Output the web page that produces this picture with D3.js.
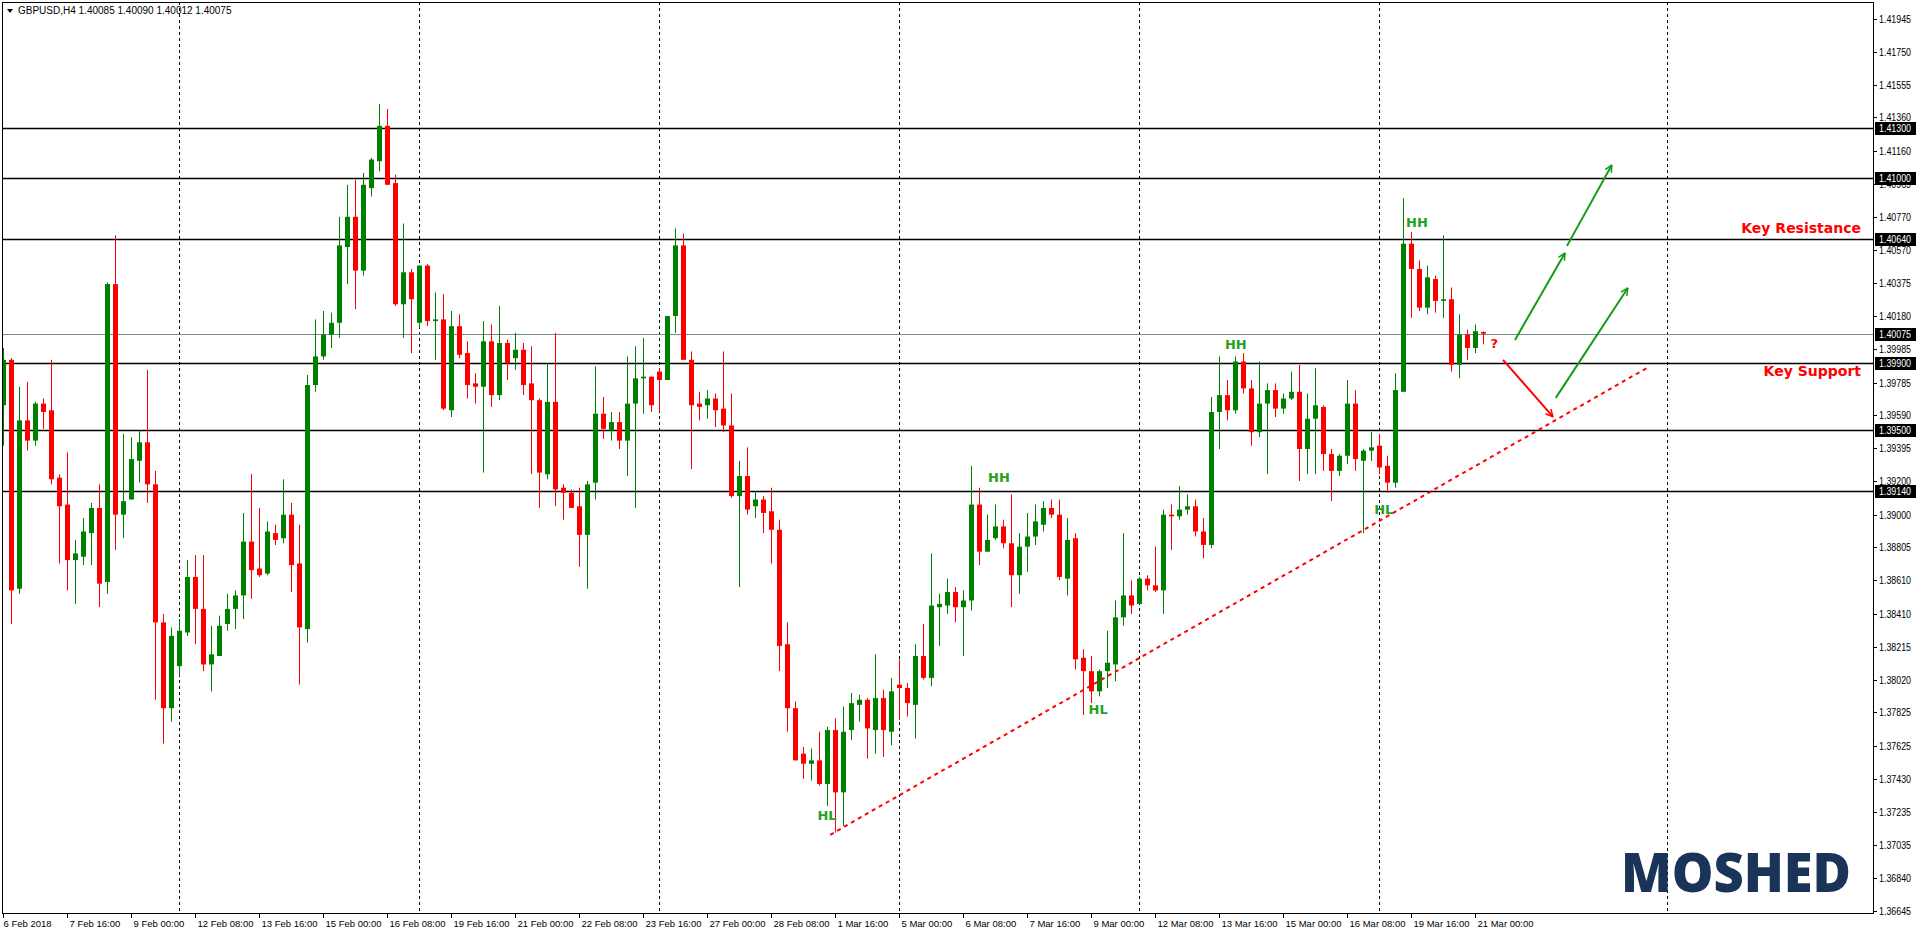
<!DOCTYPE html>
<html><head><meta charset="utf-8">
<script src="https://cdn.jsdelivr.net/npm/d3@7/dist/d3.min.js"></script>
<style>body{margin:0;background:#fff;overflow:hidden}svg{display:block}</style>
</head><body><svg id="c" width="1916" height="934"></svg>
<script>
const opens=[1.3965,1.3992,1.3856,1.3956,1.3944,1.3966,1.3962,1.3922,1.3906,1.3873,1.3875,1.3889,1.3904,1.3860,1.4037,1.3900,1.3909,1.3932,1.3943,1.3918,1.3836,1.3785,1.3810,1.3830,1.3863,1.3844,1.3811,1.3816,1.3835,1.3844,1.3852,1.3884,1.3868,1.3865,1.3889,1.3886,1.3900,1.3871,1.3832,1.3977,1.3994,1.4007,1.4014,1.4059,1.4077,1.4045,1.4094,1.4110,1.4131,1.4097,1.4025,1.4044,1.4014,1.4048,1.4015,1.4016,1.3962,1.4012,1.3996,1.3978,1.3976,1.4003,1.3971,1.4002,1.3993,1.3998,1.3978,1.3968,1.3924,1.3967,1.3916,1.3913,1.3905,1.3888,1.3919,1.3960,1.3950,1.3955,1.3944,1.3966,1.3981,1.3982,1.3985,1.3980,1.4018,1.4060,1.3992,1.3966,1.3965,1.3969,1.3963,1.3953,1.3911,1.3923,1.3905,1.3909,1.3902,1.3891,1.3823,1.3785,1.3758,1.3752,1.3754,1.3740,1.3772,1.3735,1.3772,1.3787,1.3790,1.3772,1.3791,1.3771,1.3799,1.3797,1.3787,1.3816,1.3803,1.3845,1.3846,1.3854,1.3845,1.3849,1.3906,1.3878,1.3886,1.3893,1.3883,1.3864,1.3881,1.3887,1.3894,1.3904,1.3900,1.3862,1.3886,1.3815,1.3807,1.3795,1.3807,1.3811,1.3839,1.3852,1.3847,1.3862,1.3858,1.3855,1.3900,1.3899,1.3903,1.3905,1.3890,1.3882,1.3961,1.3971,1.3962,1.3991,1.3975,1.3949,1.3966,1.3974,1.3963,1.3969,1.3973,1.3939,1.3957,1.3964,1.3936,1.3926,1.3935,1.3966,1.3932,1.3938,1.3941,1.3929,1.3919,1.3973,1.4061,1.4046,1.4023,1.4040,1.4027,1.4028,1.3989,1.4007,1.3999,1.40085];
const highs=[1.3999,1.3993,1.3976,1.3979,1.3967,1.3969,1.3992,1.3924,1.3937,1.3885,1.3898,1.3907,1.3918,1.4038,1.4066,1.3948,1.3946,1.3950,1.3986,1.3926,1.3841,1.3833,1.3838,1.3873,1.3876,1.3876,1.3834,1.3840,1.3853,1.3855,1.3901,1.3924,1.3904,1.3896,1.3894,1.3921,1.3907,1.3894,1.3983,1.4016,1.4021,1.4020,1.4077,1.4096,1.4099,1.4103,1.4112,1.4144,1.4141,1.4102,1.4073,1.4046,1.4048,1.4049,1.4032,1.4031,1.4021,1.4019,1.4003,1.3984,1.4015,1.4013,1.4024,1.4004,1.4008,1.4002,1.4000,1.3969,1.3990,1.4008,1.3918,1.3915,1.3916,1.3920,1.3988,1.3970,1.3961,1.3961,1.3994,1.4000,1.4005,1.3982,1.3987,1.4018,1.4070,1.4067,1.3997,1.3973,1.3974,1.3972,1.3997,1.3972,1.3932,1.3940,1.3914,1.3911,1.3916,1.3897,1.3836,1.3789,1.3762,1.3761,1.3771,1.3774,1.3779,1.3786,1.3794,1.3793,1.3791,1.3817,1.3796,1.3803,1.3814,1.3800,1.3823,1.3835,1.3877,1.3853,1.3862,1.3857,1.3855,1.3929,1.3916,1.3900,1.3906,1.3897,1.3912,1.3889,1.3901,1.3906,1.3908,1.3909,1.3909,1.3898,1.3889,1.3820,1.3816,1.3808,1.3831,1.3849,1.3889,1.3861,1.3863,1.3864,1.3881,1.3903,1.3906,1.3917,1.3912,1.3909,1.3898,1.3970,1.3994,1.3980,1.3994,1.3996,1.3980,1.3991,1.3978,1.3978,1.3972,1.3985,1.3989,1.3972,1.3987,1.3965,1.3939,1.3936,1.3980,1.3974,1.3939,1.3949,1.3948,1.3935,1.3984,1.4088,1.4068,1.4051,1.4048,1.4042,1.4066,1.4035,1.4019,1.4010,1.4013,1.40090];
const lows=[1.3941,1.3835,1.3853,1.3938,1.3941,1.3951,1.3918,1.3871,1.3855,1.3847,1.3870,1.3870,1.3845,1.3853,1.3879,1.3886,1.3909,1.3919,1.3907,1.3790,1.3764,1.3777,1.3804,1.3828,1.3823,1.3807,1.3795,1.3816,1.3831,1.3832,1.3838,1.3850,1.3863,1.3864,1.3882,1.3883,1.3854,1.3799,1.3824,1.3973,1.3992,1.3999,1.4005,1.4037,1.4022,1.4042,1.4089,1.4104,1.4096,1.4024,1.4005,1.3996,1.4011,1.4012,1.3992,1.3962,1.3958,1.3993,1.3969,1.3966,1.3925,1.3964,1.3968,1.3980,1.3986,1.3971,1.3924,1.3904,1.3921,1.3905,1.3897,1.3904,1.3869,1.3856,1.3909,1.3945,1.3944,1.3939,1.3923,1.3904,1.3960,1.3961,1.3961,1.3980,1.4008,1.3992,1.3927,1.3956,1.3957,1.3952,1.3949,1.3910,1.3857,1.3900,1.3898,1.3889,1.3871,1.3807,1.3771,1.3754,1.3743,1.3742,1.3739,1.3727,1.3711,1.3715,1.3766,1.3777,1.3755,1.3758,1.3756,1.3763,1.3778,1.3780,1.3767,1.3802,1.3798,1.3822,1.3841,1.3836,1.3816,1.3843,1.3870,1.3878,1.3885,1.3880,1.3845,1.3853,1.3866,1.3882,1.3890,1.3898,1.3861,1.3852,1.3808,1.3781,1.3788,1.3792,1.3797,1.3801,1.3834,1.3841,1.3847,1.3855,1.3854,1.3841,1.3879,1.3897,1.3900,1.3887,1.3874,1.3880,1.3939,1.3956,1.3960,1.3972,1.3941,1.3946,1.3924,1.3958,1.3960,1.3968,1.3920,1.3924,1.3924,1.3926,1.3908,1.3923,1.3930,1.3926,1.3889,1.3932,1.3924,1.3913,1.3916,1.3973,1.4017,1.4021,1.4019,1.4020,1.4017,1.3985,1.3981,1.3992,1.3996,1.40012];
const closes=[1.3992,1.3855,1.3956,1.3944,1.3966,1.3961,1.3921,1.3905,1.3873,1.3877,1.3890,1.3904,1.3859,1.4037,1.3900,1.3908,1.3933,1.3943,1.3918,1.3836,1.3785,1.3828,1.3831,1.3863,1.3844,1.3811,1.3817,1.3834,1.3844,1.3852,1.3884,1.3867,1.3864,1.3890,1.3885,1.3900,1.3870,1.3833,1.3977,1.3994,1.4007,1.4014,1.4060,1.4077,1.4045,1.4096,1.4111,1.4131,1.4096,1.4025,1.4044,1.4028,1.4048,1.4015,1.4016,1.3963,1.4012,1.3995,1.3977,1.3976,1.4003,1.3971,1.4002,1.3990,1.3998,1.3977,1.3968,1.3925,1.3967,1.3915,1.3913,1.3904,1.3888,1.3918,1.3960,1.3951,1.3955,1.3944,1.3966,1.3981,1.3982,1.3965,1.3980,1.4018,1.4060,1.3992,1.3965,1.3964,1.3969,1.3962,1.3953,1.3911,1.3923,1.3903,1.3909,1.3901,1.3891,1.3822,1.3785,1.3754,1.3752,1.3754,1.3740,1.3772,1.3735,1.3771,1.3788,1.3790,1.3773,1.3791,1.3772,1.3795,1.3797,1.3788,1.3816,1.3803,1.3846,1.3847,1.3854,1.3845,1.3849,1.3906,1.3878,1.3885,1.3893,1.3883,1.3864,1.3881,1.3887,1.3896,1.3904,1.3900,1.3863,1.3885,1.3814,1.3807,1.3795,1.3807,1.3812,1.3839,1.3852,1.3846,1.3862,1.3858,1.3855,1.3900,1.3899,1.3903,1.3905,1.3890,1.3882,1.3961,1.3971,1.3962,1.3991,1.3975,1.3949,1.3966,1.3974,1.3963,1.3969,1.3973,1.3939,1.3957,1.3965,1.3936,1.3926,1.3935,1.3966,1.3933,1.3938,1.3940,1.3928,1.3919,1.3974,1.4061,1.4046,1.4023,1.4041,1.4027,1.4028,1.3989,1.4007,1.3999,1.4009,1.40075];
const priceTicks=[1.41945,1.41750,1.41555,1.41360,1.41160,1.40965,1.40770,1.40570,1.40375,1.40180,1.39985,1.39785,1.39590,1.39395,1.39200,1.39000,1.38805,1.38610,1.38410,1.38215,1.38020,1.37825,1.37625,1.37430,1.37235,1.37035,1.36840,1.36645];
const timeLabels=["6 Feb 2018","7 Feb 16:00","9 Feb 00:00","12 Feb 08:00","13 Feb 16:00","15 Feb 00:00","16 Feb 08:00","19 Feb 16:00","21 Feb 00:00","22 Feb 08:00","23 Feb 16:00","27 Feb 00:00","28 Feb 08:00","1 Mar 16:00","5 Mar 00:00","6 Mar 08:00","7 Mar 16:00","9 Mar 00:00","12 Mar 08:00","13 Mar 16:00","15 Mar 00:00","16 Mar 08:00","19 Mar 16:00","21 Mar 00:00"];
const levels=[1.41300,1.41000,1.40640,1.39900,1.39500,1.39140];
const currentPrice=1.40075;
const weekSeparators=[22,52,82,112,142,172,208];
const trendLine=[[103.4,1.37098],[205.5,1.39872]];
const greenArrows=[[[189.0,1.40038],[195.25,1.40555]],[[195.5,1.40597],[201.1,1.41078]],[[194.1,1.39694],[203.1,1.40347]]];
const redArrows=[[[187.5,1.39920],[193.75,1.39581]]];
const swingLabels=[["HH",124.5,1.39213],["HH",154.1,1.40003],["HH",176.75,1.40727],["HL",103.0,1.37205],["HL",136.9,1.37834],["HL",172.6,1.39022]];
const keyLabels=[["Key Resistance",1.40698],["Key Support",1.39848]];

const svg=d3.select("#c");
const L=2,T=2,R=1873,B=913;
const x=d3.scaleLinear().domain([0,185]).range([3,1483]);
const y=d3.scaleLinear().domain([1.36645,1.41945]).range([911,19]);
const GREEN="#008000",RED="#ff0000";
const font="'Liberation Sans', Arial, sans-serif";

svg.append("defs").append("clipPath").attr("id","pc").append("rect").attr("x",L).attr("y",T).attr("width",R-L).attr("height",B-T);
const g=svg.append("g").attr("clip-path","url(#pc)");

g.selectAll(".sep").data(weekSeparators).join("line").attr("x1",d=>Math.round(x(d))+0.5).attr("x2",d=>Math.round(x(d))+0.5).attr("y1",T).attr("y2",B)
 .attr("stroke","#000").attr("stroke-dasharray","3,3").attr("stroke-width",1);
g.selectAll(".lv").data(levels).join("line").attr("x1",L).attr("x2",R).attr("y1",d=>Math.round(y(d))+0.5).attr("y2",d=>Math.round(y(d))+0.5).attr("stroke","#000").attr("stroke-width",1.3);
g.append("line").attr("x1",L).attr("x2",R).attr("y1",Math.round(y(currentPrice))+0.5).attr("y2",Math.round(y(currentPrice))+0.5).attr("stroke","#778899");

const idx=d3.range(opens.length);
const col=i=>closes[i]<opens[i]?RED:GREEN;
g.selectAll(".w").data(idx).join("line").attr("x1",i=>Math.round(x(i))+0.5).attr("x2",i=>Math.round(x(i))+0.5)
 .attr("y1",i=>y(highs[i])).attr("y2",i=>y(lows[i])).attr("stroke",col).attr("stroke-width",1);
g.selectAll(".b").data(idx).join("rect").attr("x",i=>Math.round(x(i))-2).attr("width",5)
 .attr("y",i=>Math.min(y(opens[i]),y(closes[i]))).attr("height",i=>Math.max(1.5,Math.abs(y(opens[i])-y(closes[i])))).attr("fill",col);

g.append("line").attr("x1",x(trendLine[0][0])).attr("y1",y(trendLine[0][1])).attr("x2",x(trendLine[1][0])).attr("y2",y(trendLine[1][1]))
 .attr("stroke",RED).attr("stroke-width",2).attr("stroke-dasharray","4,4");

function arrow(a,color){
  const x1=x(a[0][0]),y1=y(a[0][1]),x2=x(a[1][0]),y2=y(a[1][1]);
  g.append("line").attr("x1",x1).attr("y1",y1).attr("x2",x2).attr("y2",y2).attr("stroke",color).attr("stroke-width",2);
  const ang=Math.atan2(y2-y1,x2-x1),h=8;
  [0.45,-0.45].forEach(d=>g.append("line").attr("x1",x2).attr("y1",y2).attr("x2",x2-h*Math.cos(ang+d)).attr("y2",y2-h*Math.sin(ang+d)).attr("stroke",color).attr("stroke-width",1.5));
}
greenArrows.forEach(a=>arrow(a,"#169b16"));
redArrows.forEach(a=>arrow(a,RED));

g.selectAll(".sl").data(swingLabels).join("text").attr("x",d=>x(d[1])).attr("y",d=>y(d[2])).attr("text-anchor","middle").attr("dominant-baseline","middle")
 .attr("fill","#1fa21f").attr("font-family","Verdana, 'DejaVu Sans', sans-serif").attr("font-weight","bold").attr("font-size",13).text(d=>d[0]);
g.append("text").attr("x",x(186.4)).attr("y",y(1.40009)).attr("text-anchor","middle").attr("dominant-baseline","middle").attr("fill",RED)
 .attr("font-family","Verdana, 'DejaVu Sans', sans-serif").attr("font-weight","bold").attr("font-size",13).text("?");
g.selectAll(".kl").data(keyLabels).join("text").attr("x",R-12).attr("y",d=>y(d[1])).attr("text-anchor","end").attr("dominant-baseline","middle")
 .attr("fill",RED).attr("font-family","Verdana, 'DejaVu Sans', sans-serif").attr("font-weight","bold").attr("font-size",14).text(d=>d[0]);

g.append("text").attr("x",1621).attr("y",892).attr("fill","#1a3358").attr("font-family","'Open Sans', Lato, sans-serif").attr("font-weight",800)
 .attr("font-size",54).attr("textLength",230).attr("lengthAdjust","spacingAndGlyphs").text("MOSHED");

svg.append("rect").attr("x",L+0.5).attr("y",T+0.5).attr("width",R-L).attr("height",B-T).attr("fill","none").attr("stroke","#000");

svg.append("path").attr("d","M7,9 L13,9 L10,13 Z").attr("fill","#000");
svg.append("text").attr("x",18).attr("y",14).attr("font-family",font).attr("font-size",10).attr("fill","#000").text("GBPUSD,H4  1.40085 1.40090 1.40012 1.40075");

const ax=svg.append("g");
priceTicks.forEach(p=>{
  const yy=Math.round(y(p))+0.5;
  ax.append("line").attr("x1",R).attr("x2",R+4).attr("y1",yy).attr("y2",yy).attr("stroke","#000");
  ax.append("text").attr("x",R+6).attr("y",yy+3.5).attr("font-family",font).attr("font-size",10).attr("textLength",32).attr("lengthAdjust","spacingAndGlyphs").text(p.toFixed(5));
});
levels.concat([currentPrice]).forEach(p=>{
  const yy=Math.round(y(p));
  ax.append("rect").attr("x",R+2).attr("y",yy-6).attr("width",42).attr("height",13).attr("fill","#000");
  ax.append("text").attr("x",R+6).attr("y",yy+4).attr("font-family",font).attr("font-size",10).attr("fill","#fff").attr("textLength",32).attr("lengthAdjust","spacingAndGlyphs").text(p.toFixed(5));
});
timeLabels.forEach((t,k)=>{
  const xx=Math.round(x(k*8))+0.5;
  ax.append("line").attr("x1",xx).attr("x2",xx).attr("y1",B).attr("y2",B+5).attr("stroke","#000");
  ax.append("text").attr("x",xx+(k===0?0:2)).attr("y",B+14).attr("font-family",font).attr("font-size",9.5).text(t);
});
</script></body></html>
